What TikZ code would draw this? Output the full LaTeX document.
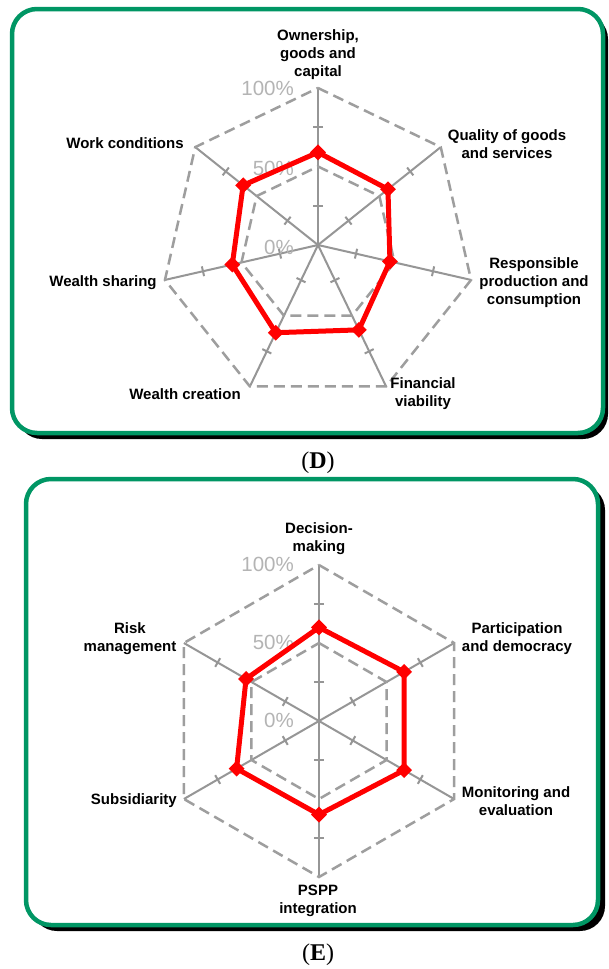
\documentclass[tikz,border=0pt]{standalone}
\usepackage{fontspec}
\setmainfont{Liberation Serif}
\setsansfont{Liberation Sans}
\usetikzlibrary{shapes.geometric}
\definecolor{framegreen}{RGB}{0, 150, 100}
\definecolor{axisgray}{RGB}{150, 150, 150}
\definecolor{gridgray}{RGB}{158, 158, 158}
\definecolor{pctgray}{RGB}{180, 180, 180}
\definecolor{scorered}{RGB}{255, 0, 0}

\tikzset{
  panelbox/.style={draw=framegreen, line width=4.5pt, fill=white, rounded corners=25pt},
  panelshadow/.style={fill=black, rounded corners=25pt},
  axisline/.style={draw=axisgray, line width=2pt},
  gridline/.style={draw=gridgray, line width=2.5pt, dash pattern=on 11pt off 6pt},
  scoreline/.style={draw=scorered, line width=5pt, line join=round},
  scoremark/.style={diamond, fill=scorered, inner sep=0pt, minimum size=16pt},
  axislabel/.style={font=\sffamily\bfseries\fontsize{15}{18}\selectfont, align=center, inner sep=0pt},
  pctlabel/.style={font=\sffamily\fontsize{20.5}{24}\selectfont, text=pctgray, anchor=east, inner sep=0pt},
  caption/.style={font=\fontsize{24}{28}\selectfont}
}

\begin{document}
\begin{tikzpicture}[x=1pt, y=-1pt]
  \useasboundingbox (0,0) rectangle (608,969);

  % Frames
  \fill[panelshadow] (17,14) rectangle (608,439);
  \draw[panelbox] (12,9) rectangle (603,433);
  \fill[panelshadow] (32,485) rectangle (605,931);
  \draw[panelbox] (26,479) rectangle (598,925);

  % Panel D: seven spokes
  \begin{scope}[shift={(318,245)}]
    \coordinate (d-c) at (0,0);
    \foreach \k/\v in {0/0.59, 1/0.57, 2/0.47, 3/0.60, 4/0.62, 5/0.56, 6/0.61} {
      \coordinate (d-out-\k) at ({90-\k*360/7}:157pt);
      \coordinate (d-mid-\k) at ({90-\k*360/7}:78.5pt);
      \coordinate (d-s-\k) at ({90-\k*360/7}:{\v*157pt});
      \draw[axisline] (d-c) -- (d-out-\k);
      \draw[axisline, rotate={90-\k*360/7}] (39pt,-5pt) -- (39pt,5pt)
        (118pt,-5pt) -- (118pt,5pt);
    }
    \draw[gridline] (d-mid-0) -- (d-mid-1) -- (d-mid-2) -- (d-mid-3) -- (d-mid-4) -- (d-mid-5) -- (d-mid-6) -- cycle;
    \draw[gridline] (d-out-0) -- (d-out-1) -- (d-out-2) -- (d-out-3) -- (d-out-4) -- (d-out-5) -- (d-out-6) -- cycle;
  \end{scope}

  \node[pctlabel] (d-p100) at (294,88) {100\%};
  \node[pctlabel] (d-p50) at (294,168) {50\%};
  \node[pctlabel] (d-p0) at (294,247) {0\%};

  \draw[scoreline] (d-s-0) -- (d-s-1) -- (d-s-2) -- (d-s-3) -- (d-s-4) -- (d-s-5) -- (d-s-6) -- cycle;
  \foreach \k in {0,...,6} \node[scoremark] (d-m-\k) at (d-s-\k) {};

  \node[axislabel] (d-own) at (318,55) {Ownership,\\goods and\\capital};
  \node[axislabel] (d-qual) at (507,144) {Quality of goods\\and services};
  \node[axislabel] (d-resp) at (534,283) {Responsible\\production and\\consumption};
  \node[axislabel] (d-fin) at (423,394) {Financial\\viability};
  \node[axislabel] (d-crea) at (185,394) {Wealth creation};
  \node[axislabel] (d-shar) at (103,283) {Wealth sharing};
  \node[axislabel] (d-work) at (125,143) {Work conditions};

  \node[caption] (d-cap) at (318,463) {(\textbf{D})};

  % Panel E: six spokes
  \begin{scope}[shift={(319,721)}]
    \coordinate (e-c) at (0,0);
    \foreach \k/\v in {0/0.60, 1/0.63, 2/0.63, 3/0.60, 4/0.61, 5/0.54} {
      \coordinate (e-out-\k) at ({90-\k*60}:156pt);
      \coordinate (e-mid-\k) at ({90-\k*60}:78pt);
      \coordinate (e-s-\k) at ({90-\k*60}:{\v*156pt});
      \draw[axisline] (e-c) -- (e-out-\k);
      \draw[axisline, rotate={90-\k*60}] (39pt,-5pt) -- (39pt,5pt)
        (117pt,-5pt) -- (117pt,5pt);
    }
    \draw[gridline] (e-mid-0) -- (e-mid-1) -- (e-mid-2) -- (e-mid-3) -- (e-mid-4) -- (e-mid-5) -- cycle;
    \draw[gridline] (e-out-0) -- (e-out-1) -- (e-out-2) -- (e-out-3) -- (e-out-4) -- (e-out-5) -- cycle;
  \end{scope}

  \node[pctlabel] (e-p100) at (294,564) {100\%};
  \node[pctlabel] (e-p50) at (294,642) {50\%};
  \node[pctlabel] (e-p0) at (294,720) {0\%};

  \draw[scoreline] (e-s-0) -- (e-s-1) -- (e-s-2) -- (e-s-3) -- (e-s-4) -- (e-s-5) -- cycle;
  \foreach \k in {0,...,5} \node[scoremark] (e-m-\k) at (e-s-\k) {};

  \node[axislabel] (e-dec) at (319,539) {Decision-\\making};
  \node[axislabel] (e-part) at (517,639) {Participation\\and democracy};
  \node[axislabel] (e-mon) at (516,801) {Monitoring and\\evaluation};
  \node[axislabel] (e-pspp) at (318,901) {PSPP\\integration};
  \node[axislabel, anchor=east] (e-sub) at (177,801) {Subsidiarity};
  \node[axislabel] (e-risk) at (130,639) {Risk\\management};

  \node[caption] (e-cap) at (318,955) {(\textbf{E})};
\end{tikzpicture}
\end{document}
